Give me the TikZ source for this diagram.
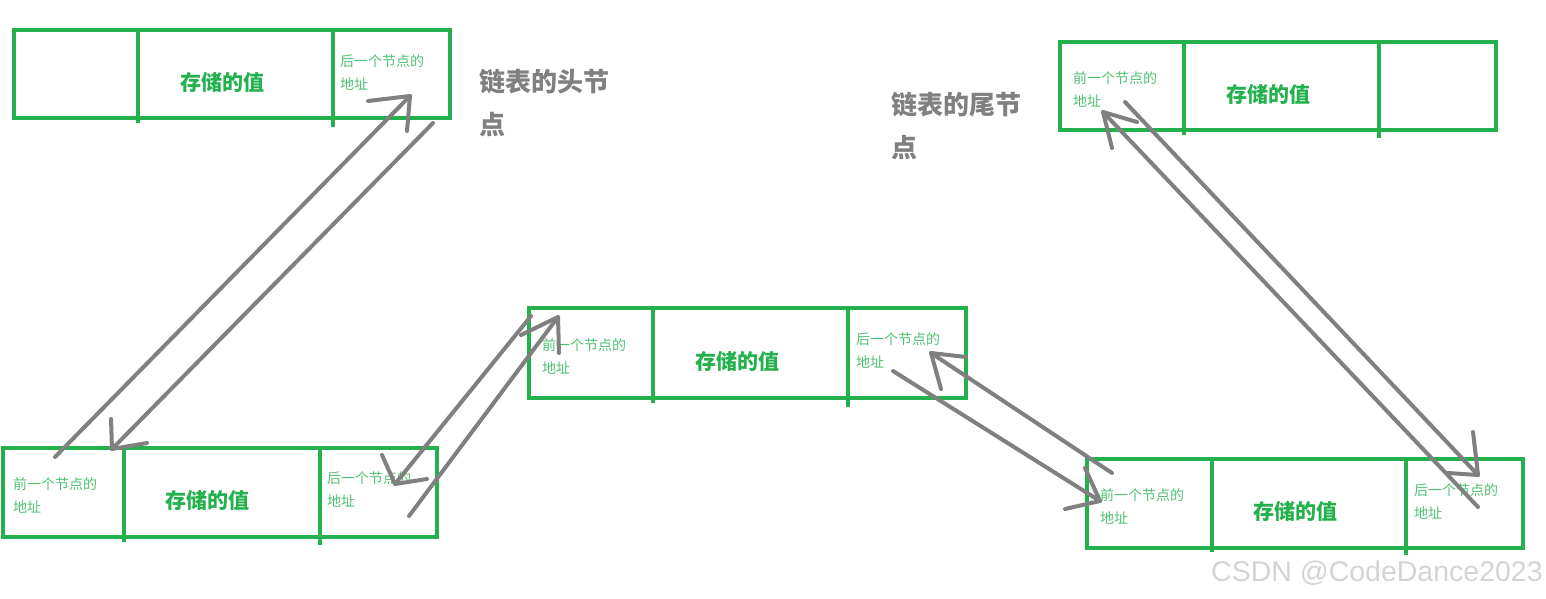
\documentclass[tikz,border=0pt]{standalone}
\usepackage{fontspec}
\setmainfont{Liberation Sans}
\newfontfamily\cjk{Noto Sans CJK SC}
\definecolor{pgreen}{HTML}{22B14C}
\definecolor{agray}{HTML}{808080}
\definecolor{wmgray}{HTML}{D4D4D4}
\tikzset{
  boxline/.style={draw=pgreen, line width=4.5pt},
  conn/.style={draw=agray, line width=4pt, line cap=round, line join=round},
  small/.style={text=pgreen!80, font=\cjk\fontsize{14}{23}\selectfont, align=left, anchor=west, inner sep=0pt},
  val/.style={text=pgreen, font=\cjk\bfseries\fontsize{21}{21}\selectfont, inner sep=0pt},
  lab/.style={text=agray, font=\cjk\bfseries\fontsize{26}{43}\selectfont, align=left, anchor=west, inner sep=0pt},
}
\newcommand\nodebox[8]{%
  \draw[boxline] (#1,#2) rectangle (#3,#4);
  \draw[boxline] (#5,#2) -- (#5,#6);
  \draw[boxline] (#7,#2) -- (#7,#8);}
\begin{document}
\begin{tikzpicture}[x=1pt,y=-1pt]
\useasboundingbox (0,0) rectangle (1546,598);
% boxes
\nodebox{14}{30}{450}{118}{138}{123}{333}{127}
\nodebox{3}{448}{437}{537}{124}{542}{320}{545}
\nodebox{529}{308}{966}{398}{653}{403}{848}{407}
\nodebox{1060}{42}{1496}{130}{1184}{135}{1379}{138}
\nodebox{1087}{459}{1523}{548}{1212}{552}{1406}{555}
% texts box A
\node[val] (avl) at (222,82) {存储的值};
\node[small] (anx) at (340,72) {后一个节点的\\地址};
% box B
\node[small] (bpv) at (13,495) {前一个节点的\\地址};
\node[val] (bvl) at (207,500) {存储的值};
\node[small] (bnx) at (327,489) {后一个节点的\\地址};
% box C
\node[small] (cpv) at (542,356) {前一个节点的\\地址};
\node[val] (cvl) at (737,361) {存储的值};
\node[small] (cnx) at (856,350) {后一个节点的\\地址};
% box D
\node[small] (dpv) at (1073,89) {前一个节点的\\地址};
\node[val] (dvl) at (1268,94) {存储的值};
% box E
\node[small] (epv) at (1100,506) {前一个节点的\\地址};
\node[val] (evl) at (1295,511) {存储的值};
\node[small] (enx) at (1414,501) {后一个节点的\\地址};
% labels
\node[lab] (head) at (479,103) {链表的头节\\点};
\node[lab] (tail) at (891,126) {链表的尾节\\点};
\node[anchor=base west, inner sep=0pt, text=wmgray, font=\fontsize{28.5}{28.5}\selectfont] (wm) at (1211,581) {CSDN @CodeDance2023};
% arrow coordinates
\coordinate (p1s) at (55,457);   \coordinate (p1t) at (410,96);
\coordinate (p1a) at (368,101);  \coordinate (p1b) at (407,131);
\coordinate (p2s) at (433,123);  \coordinate (p2t) at (112,449);
\coordinate (p2a) at (111,419);  \coordinate (p2b) at (147,443);
\coordinate (p3s) at (409,516);  \coordinate (p3t) at (558,317);
\coordinate (p3a) at (521,335);  \coordinate (p3b) at (559,353);
\coordinate (p4s) at (531,316);  \coordinate (p4t) at (395,484);
\coordinate (p4a) at (382,455);  \coordinate (p4b) at (427,479);
\coordinate (p5s) at (893,371);  \coordinate (p5t) at (1100,501);
\coordinate (p5a) at (1085,468); \coordinate (p5b) at (1065,509);
\coordinate (p6s) at (1112,473); \coordinate (p6t) at (931,353);
\coordinate (p6a) at (966,357);  \coordinate (p6b) at (941,389);
\coordinate (p7s) at (1125,102); \coordinate (p7t) at (1478,475);
\coordinate (p7a) at (1473,432); \coordinate (p7b) at (1448,473);
\coordinate (p8s) at (1478,507); \coordinate (p8t) at (1103,112);
\coordinate (p8a) at (1137,122); \coordinate (p8b) at (1112,148);
\foreach \i in {1,...,8}{
  \draw[conn] (p\i s) -- (p\i t);
  \draw[conn] (p\i a) -- (p\i t) -- (p\i b);
}
\end{tikzpicture}
\end{document}
